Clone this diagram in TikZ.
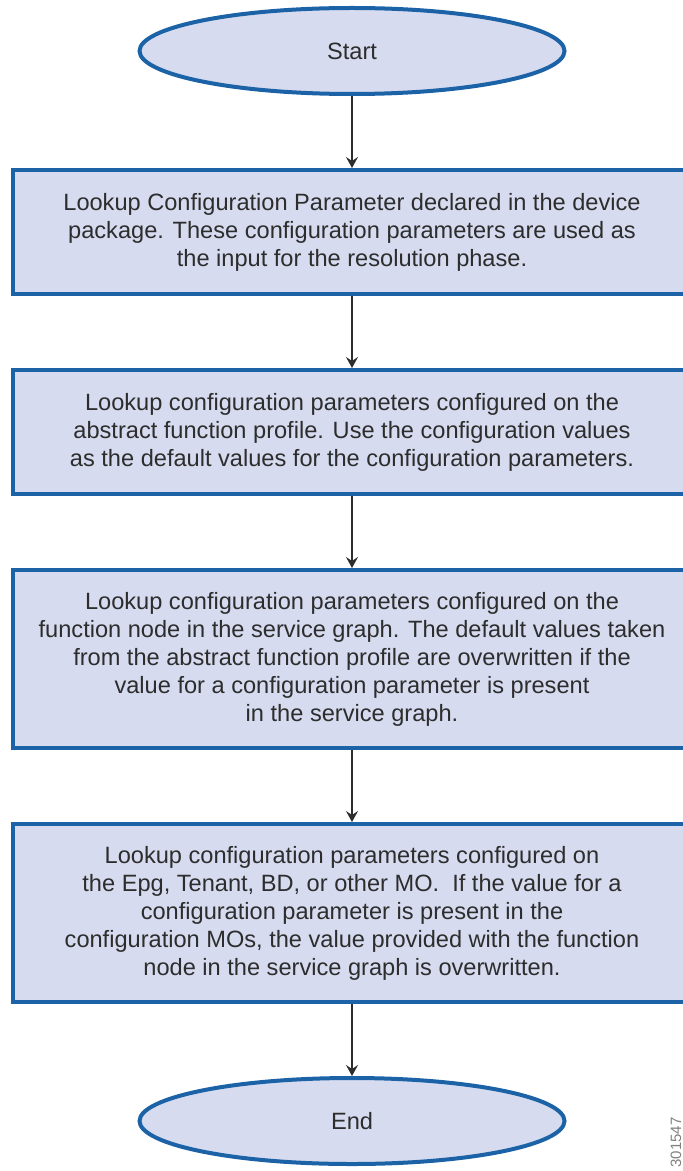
\documentclass[tikz,border=0pt]{standalone}
\usepackage{fontspec}
\setmainfont{Liberation Sans}
\usepackage{xcolor}
\usepackage{tikz}
\usetikzlibrary{positioning, shapes.geometric, arrows.meta}

\definecolor{boxfill}{RGB}{214,219,239}
\definecolor{boxblue}{RGB}{28,98,166}
\definecolor{textgray}{RGB}{45,45,45}

\begin{document}
\begin{tikzpicture}[auto, node distance=36pt,
    T node/.style={ellipse, draw=boxblue, fill=boxfill, line width=2pt, minimum width=212.5pt, minimum height=43pt, text=textgray, font=\fontsize{11.8}{14}\selectfont},
    P node/.style={rectangle, draw=boxblue, fill=boxfill, line width=2pt, minimum width=339pt, align=center, text=textgray, font=\fontsize{11.8}{14}\selectfont},
    flow/.style={-{Stealth[length=5.5pt, width=6pt, inset=2pt]}, line width=0.6pt, draw=textgray}]
    \useasboundingbox (0,0) rectangle (341.5pt,-585.5pt);

    \node[T node] (S) at (176pt,-25.5pt) {Start};
    \node[P node, minimum height=62pt] (P1) [below=of S] {Lookup Configuration Parameter declared in the device\\package. These configuration parameters are used as\\the input for the resolution phase.};
    \node[P node, minimum height=62pt] (P2) [below=of P1] {Lookup configuration parameters configured on the\\abstract function profile. Use the configuration values\\as the default values for the configuration parameters.};
    \node[P node, minimum height=89pt] (P3) [below=of P2] {Lookup configuration parameters configured on the\\function node in the service graph. The default values taken\\from the abstract function profile are overwritten if the\\value for a configuration parameter is present\\in the service graph.};
    \node[P node, minimum height=89pt] (P4) [below=of P3] {Lookup configuration parameters configured on\\the Epg, Tenant, BD, or other MO.\ \ If the value for a\\configuration parameter is present in the\\configuration MOs, the value provided with the function\\node in the service graph is overwritten.};
    \node[T node] (E) [below=of P4] {End};

    \path
    (S) edge[flow] (P1)
    (P1) edge[flow] (P2)
    (P2) edge[flow] (P3)
    (P3) edge[flow] (P4)
    (P4) edge[flow] (E)
    ;

    % figure number
    \node[rotate=90, anchor=west, text=gray, font=\fontsize{7.5}{9}\selectfont, inner sep=0pt] (id) at (338pt,-584pt) {301547};
\end{tikzpicture}
\end{document}
